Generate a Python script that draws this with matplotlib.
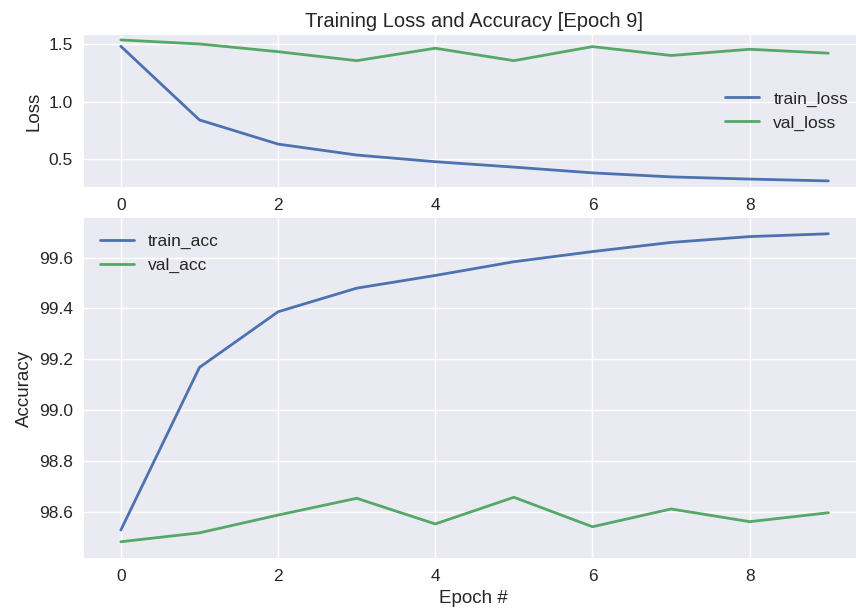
import matplotlib
matplotlib.use("Agg")
import matplotlib.pyplot as plt
import numpy as np

plt.style.use("seaborn-v0_8")
plt.rcParams["font.family"] = ["Liberation Sans", "DejaVu Sans"]

epochs = np.arange(10)
train_loss = [1.48, 0.84, 0.63, 0.535, 0.477, 0.43, 0.38, 0.345, 0.326, 0.31]
val_loss = [1.535, 1.50, 1.433, 1.355, 1.463, 1.355, 1.477, 1.40, 1.454, 1.42]
train_acc = [98.528, 99.168, 99.387, 99.48, 99.53, 99.584, 99.624, 99.66, 99.683, 99.694]
val_acc = [98.482, 98.517, 98.587, 98.653, 98.552, 98.657, 98.541, 98.611, 98.561, 98.596]

fig = plt.figure(figsize=(8.56, 6.14), dpi=100)
ax1 = fig.add_axes([0.098, 0.6954, 0.911, 0.2476])
ax2 = fig.add_axes([0.098, 0.0912, 0.911, 0.5537])

ax1.plot(epochs, train_loss, label="train_loss", lw=2)
ax1.plot(epochs, val_loss, label="val_loss", lw=2)
ax1.set_ylim(0.257, 1.578)
ax1.set_xlim(-0.47, 9.45)
ax1.set_yticks([0.5, 1.0, 1.5])
ax1.set_ylabel("Loss", fontsize=13.5)
ax1.set_title("Training Loss and Accuracy [Epoch 9]", fontsize=14.5)
ax1.legend(loc="center right", fontsize=12.5)
ax1.tick_params(labelsize=12.5, pad=8)

ax2.plot(epochs, train_acc, label="train_acc", lw=2)
ax2.plot(epochs, val_acc, label="val_acc", lw=2)
ax2.set_ylim(98.418, 99.756)
ax2.set_xlim(-0.47, 9.45)
ax2.set_ylabel("Accuracy", fontsize=13.5)
ax2.set_xlabel("Epoch #", fontsize=13.5)
ax2.legend(loc="upper left", fontsize=12.5)
ax2.tick_params(labelsize=12.5, pad=8)

fig.savefig("out.png", dpi=100)
